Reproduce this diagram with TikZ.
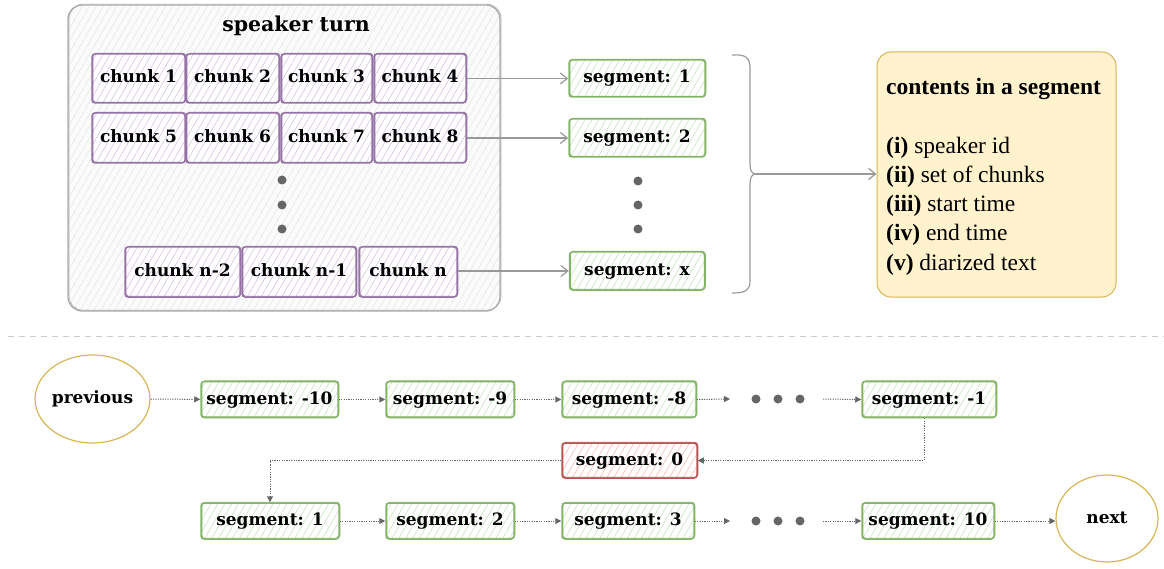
\documentclass[tikz,border=0pt]{standalone}
\usepackage{fontspec}
\setmainfont{DejaVu Serif}
\newfontfamily\timesfont{Liberation Serif}
\usetikzlibrary{patterns.meta,arrows.meta,shapes.geometric,calc}
\definecolor{gstroke}{HTML}{82B366}
\definecolor{gfill}{HTML}{C8E3C3}
\definecolor{pstroke}{HTML}{9673A6}
\definecolor{pfill}{HTML}{D6C4E0}
\definecolor{rstroke}{HTML}{B85450}
\definecolor{rfill}{HTML}{F3BDBA}
\definecolor{ystroke}{HTML}{D6B656}
\definecolor{yfill}{HTML}{FFF2CC}
\definecolor{cstroke}{HTML}{ABABAB}
\definecolor{cfill}{HTML}{E4E4E4}
\definecolor{arrowgray}{HTML}{999999}
\definecolor{dotgray}{HTML}{666666}
\tikzset{
  box/.style={line width=1.5pt, rounded corners=3pt, inner sep=0pt,
    font=\fontsize{17}{20}\selectfont\bfseries, text height=9pt, text depth=0pt,
    preaction={fill=white},
    postaction={draw, line width=0.7pt, transform canvas={shift={(0.9pt,0.7pt)}}}},
  chunkbox/.style={box, draw=pstroke, pattern={Lines[angle=60,distance=6pt,line width=0.6pt]}, pattern color=pfill},
  segbox/.style={box, draw=gstroke, pattern={Lines[angle=60,distance=6pt,line width=0.6pt]}, pattern color=gfill},
  zerobox/.style={box, draw=rstroke, pattern={Lines[angle=60,distance=6pt,line width=0.6pt]}, pattern color=rfill},
  container/.style={draw=cstroke, line width=1.3pt, rounded corners=14pt, inner sep=0pt,
    preaction={fill=white!98.5!black}, pattern={Lines[angle=60,distance=6pt,line width=0.5pt]}, pattern color=cfill,
    postaction={draw, line width=0.6pt, transform canvas={shift={(1pt,0.8pt)}}}},
  contentsbox/.style={draw=ystroke, fill=yfill, line width=1pt, rounded corners=14pt, inner sep=0pt},
  endball/.style={draw=ystroke, line width=1.2pt, ellipse, inner sep=0pt,
    font=\fontsize{17}{20}\selectfont\bfseries, text height=9pt, text depth=0pt},
  toparrow/.style={draw=arrowgray, line width=1.2pt, -{Straight Barb[length=7pt,width=11pt,line width=1.2pt]}},
  flow/.style={draw=dotgray, line width=1pt, dash pattern=on 1.2pt off 1.2pt, -{Triangle[length=6pt,width=6pt]}},
  ctext/.style={anchor=base west, inner sep=0pt, font=\timesfont\fontsize{23.5}{27}\selectfont},
}
\begin{document}
\begin{tikzpicture}[x=1pt,y=-1pt]
\useasboundingbox (0,0) rectangle (1164,569);
% speaker turn container
\node[container, minimum width=432pt, minimum height=306pt] (turn) at (284,158) {};
\node[font=\fontsize{20.5}{24}\selectfont\bfseries, inner sep=0pt] (title) at (296,26) {speaker turn};
% chunks
\node[chunkbox, minimum width=93pt, minimum height=49pt] (c1) at (138.5,78.5) {chunk 1};
\node[chunkbox, minimum width=93pt, minimum height=49pt] (c2) at (232.5,78.5) {chunk 2};
\node[chunkbox, minimum width=91pt, minimum height=49pt] (c3) at (326.5,78.5) {chunk 3};
\node[chunkbox, minimum width=92pt, minimum height=49pt] (c4) at (420,78.5) {chunk 4};
\node[chunkbox, minimum width=93pt, minimum height=50pt] (c5) at (138.5,138) {chunk 5};
\node[chunkbox, minimum width=93pt, minimum height=50pt] (c6) at (232.5,138) {chunk 6};
\node[chunkbox, minimum width=91pt, minimum height=50pt] (c7) at (326.5,138) {chunk 7};
\node[chunkbox, minimum width=92pt, minimum height=50pt] (c8) at (420,138) {chunk 8};
\node[chunkbox, minimum width=115pt, minimum height=50pt] (cn2) at (182.5,272) {chunk n-2};
\node[chunkbox, minimum width=114pt, minimum height=50pt] (cn1) at (299,272) {chunk n-1};
\node[chunkbox, minimum width=98pt, minimum height=50pt] (cn) at (408,272) {chunk n};
\fill[dotgray] (282,180) circle (4.5pt) (282,205) circle (4.5pt) (282,229) circle (4.5pt);
% segments
\node[segbox, minimum width=136pt, minimum height=37pt] (s1) at (637,78.5) {segment: 1};
\node[segbox, minimum width=136pt, minimum height=38pt] (s2) at (637,138) {segment: 2};
\node[segbox, minimum width=135pt, minimum height=38pt] (sx) at (637,271) {segment: x};
\fill[dotgray] (638,181) circle (4.5pt) (638,205) circle (4.5pt) (638,229) circle (4.5pt);
\draw[toparrow] (c4.east) -- (s1.west);
\draw[toparrow] (c8.east) -- (s2.west);
\draw[toparrow] (cn.east |- sx.west) -- (sx.west);
% bracket
\coordinate (brtip) at (756,174);
\draw[arrowgray, line width=1.2pt] (732,55) .. controls (746,54) and (750,58) .. (750,68) -- (750,164)
  .. controls (750,171) and (752,174) .. (brtip) .. controls (752,174) and (750,177) .. (750,184)
  -- (750,281) .. controls (750,290) and (746,293) .. (732,293);
% contents
\node[contentsbox, minimum width=239pt, minimum height=245pt] (contents) at (996.5,174.5) {};
\draw[toparrow] (brtip) -- (contents.west |- brtip);
\node[ctext] (t0) at (886,95) {\bfseries contents in a segment};
\node[ctext] (t1) at (886,154) {\textbf{(i)} speaker id};
\node[ctext] (t2) at (886,183) {\textbf{(ii)} set of chunks};
\node[ctext] (t3) at (886,212) {\textbf{(iii)} start time};
\node[ctext] (t4) at (886,241) {\textbf{(iv)} end time};
\node[ctext] (t5) at (886,270) {\textbf{(v)} diarized text};
% separator
\draw[black!20, line width=1pt, dash pattern=on 6pt off 5pt] (8,336) -- (1164,336);
% bottom sequence
\node[endball, minimum width=101pt, minimum height=88pt] (prev) at (92.5,399) {previous};
\node[segbox, minimum width=137pt, minimum height=36pt] (sm10) at (269.5,399.5) {segment: -10};
\node[segbox, minimum width=128pt, minimum height=36pt] (sm9) at (450,399.5) {segment: -9};
\node[segbox, minimum width=134pt, minimum height=36pt] (sm8) at (629,399.5) {segment: -8};
\node[segbox, minimum width=134pt, minimum height=36pt] (sm1) at (929,399.5) {segment: -1};
\node[zerobox, minimum width=135pt, minimum height=35pt] (s0) at (629.5,460.5) {segment: 0};
\node[segbox, minimum width=138pt, minimum height=36pt] (b1) at (270,521) {segment: 1};
\node[segbox, minimum width=128pt, minimum height=36pt] (b2) at (450,521) {segment: 2};
\node[segbox, minimum width=132pt, minimum height=36pt] (b3) at (628,521) {segment: 3};
\node[segbox, minimum width=132pt, minimum height=36pt] (b10) at (928,521) {segment: 10};
\node[endball, minimum width=102pt, minimum height=87pt] (next) at (1107,518.5) {next};
\fill[dotgray] (756,399) circle (4.5pt) (778,399) circle (4.5pt) (800,399) circle (4.5pt);
\fill[dotgray] (756,521) circle (4.5pt) (778,521) circle (4.5pt) (800,521) circle (4.5pt);
\coordinate (e1) at (730,399);
\coordinate (e2) at (823,399);
\coordinate (e3) at (730,521);
\coordinate (e4) at (823,521);
\draw[flow] (prev) -- (sm10);
\draw[flow] (sm10) -- (sm9);
\draw[flow] (sm9) -- (sm8);
\draw[flow] (sm8.east) -- (e1);
\draw[flow] (e2) -- (sm1.west);
\draw[flow] ([xshift=-5pt]sm1.south) |- (s0.east);
\draw[flow] (s0.west) -| (b1.north);
\draw[flow] (b1) -- (b2);
\draw[flow] (b2) -- (b3);
\draw[flow] (b3.east) -- (e3);
\draw[flow] (e4) -- (b10.west);
\draw[flow] (b10.east) -- (next.west |- b10.east);
\end{tikzpicture}
\end{document}
